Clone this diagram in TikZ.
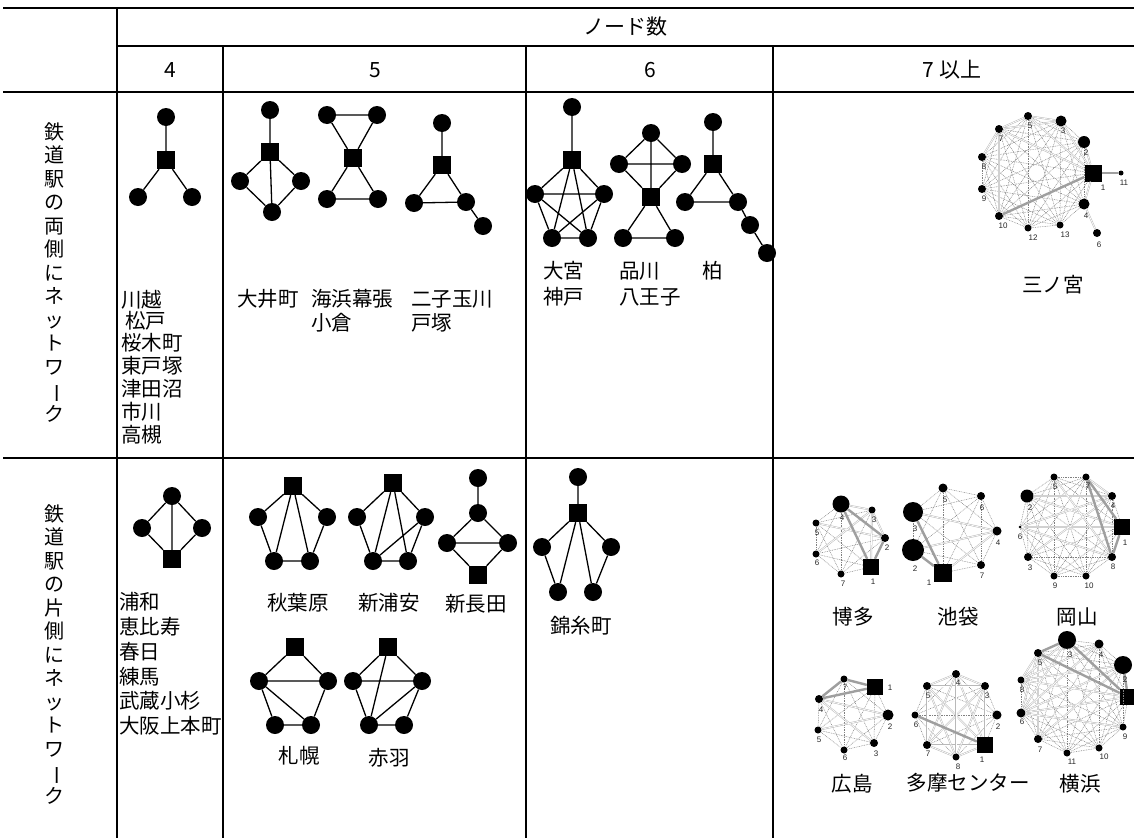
\documentclass[tikz,border=0pt]{standalone}
\usepackage{fontspec}
\newfontfamily\cjk{Noto Sans CJK JP}
\newfontfamily\num{Liberation Sans}
\begin{document}
\begin{tikzpicture}[x=1pt,y=-1pt,
  cn/.style={circle,fill=black,inner sep=0pt,minimum size=18pt},
  sq/.style={rectangle,fill=black,inner sep=0pt,minimum size=18pt},
  ed/.style={line width=1.3pt},
  lab/.style={font=\cjk\fontsize{20.5}{23}\selectfont,inner sep=0pt},
  hd/.style={font=\cjk\fontsize{21}{24}\selectfont,inner sep=0pt},
  vt/.style={font=\cjk\fontsize{20}{23.5}\selectfont,inner sep=0pt,align=center,anchor=north},
  nd/.style={circle,fill=black,inner sep=0pt,minimum size=#1},
  nd/.default=7pt,
  ns/.style={rectangle,fill=black,inner sep=0pt,minimum size=#1},
  ns/.default=16pt,
  nl/.style={font=\num\fontsize{8}{9}\selectfont,inner sep=0pt,text=black!85},
  dt/.style={black!50,dash pattern=on 0.8pt off 0.9pt,line width=0.5pt},
  lt/.style={draw=gray!55,line width=0.5pt,double=white,double distance=0.7pt},
  tk/.style={gray!75,line width=2.4pt},
  grid/.style={line width=1.2pt},
  gridb/.style={line width=2pt}
]
\fill[white] (0,0) rectangle (1134,838);
\useasboundingbox (0,0) rectangle (1134,838);

% ---------- table ----------
\draw[gridb] (3,8) -- (1134,8);
\draw[grid] (117,8) -- (117,838);
\draw[grid] (117,46) -- (1134,46);
\draw[gridb] (3,92) -- (1134,92);
\draw[grid] (223,46) -- (223,838);
\draw[grid] (526,46) -- (526,838);
\draw[grid] (773,46) -- (773,838);
\draw[gridb] (3,458) -- (1134,458);

\node[hd] (hnodes) at (625,27) {ノード数};
\node[hd] (h4) at (170,70) {4};
\node[hd] (h5) at (375,70) {5};
\node[hd] (h6) at (650,70) {6};
\node[hd] (h7) at (952,70) {7 以上};

\node[vt] (row1) at (54,122) {鉄\\道\\駅\\の\\両\\側\\に\\ネ\\ッ\\ト\\ワ\\\rotatebox[origin=c]{-90}{ー}\\ク};
\node[vt] (row2) at (54,504) {鉄\\道\\駅\\の\\片\\側\\に\\ネ\\ッ\\ト\\ワ\\\rotatebox[origin=c]{-90}{ー}\\ク};

% ---------- row 1, 4 nodes ----------
\node[cn] (a1) at (166,117) {};
\node[sq] (a0) at (166,160) {};
\node[cn] (a2) at (138,197) {};
\node[cn] (a3) at (192,197) {};
\draw[ed] (a1)--(a0) (a0)--(a2) (a0)--(a3);
\node[lab,anchor=west] (t1) at (121,300) {川越};
\node[lab,anchor=west] (t2) at (125,321) {松戸};
\node[lab,anchor=west] (t3) at (121,343) {桜木町};
\node[lab,anchor=west] (t4) at (121,366) {東戸塚};
\node[lab,anchor=west] (t5) at (121,389) {津田沼};
\node[lab,anchor=west] (t6) at (121,412) {市川};
\node[lab,anchor=west] (t7) at (121,435) {高槻};

% ---------- row 1, 5 nodes ----------
\node[cn] (b1) at (270,110) {};
\node[sq] (b0) at (270,152) {};
\node[cn] (b2) at (240,181) {};
\node[cn] (b3) at (301,181) {};
\node[cn] (b4) at (272,212) {};
\draw[ed] (b1)--(b0) (b0)--(b2) (b0)--(b3) (b0)--(b4) (b2)--(b4) (b3)--(b4);

\node[cn] (c1) at (327,115) {};
\node[cn] (c2) at (377,115) {};
\node[sq] (c0) at (353,158) {};
\node[cn] (c3) at (327,199) {};
\node[cn] (c4) at (378,199) {};
\draw[ed] (c1)--(c2) (c1)--(c0) (c2)--(c0) (c0)--(c3) (c0)--(c4) (c3)--(c4);

\node[cn] (d1) at (442,123) {};
\node[sq] (d0) at (442,165) {};
\node[cn] (d2) at (414,203) {};
\node[cn] (d3) at (466,202) {};
\node[cn] (d4) at (483,226) {};
\draw[ed] (d1)--(d0) (d0)--(d2) (d0)--(d3) (d2)--(d3) (d3)--(d4);

\node[lab,anchor=west] (u1) at (237,299) {大井町};
\node[lab,anchor=west] (u2) at (311,299) {海浜幕張};
\node[lab,anchor=west] (u3) at (311,323) {小倉};
\node[lab,anchor=west] (u4) at (411,299) {二子玉川};
\node[lab,anchor=west] (u5) at (411,323) {戸塚};

% ---------- row 1, 6 nodes ----------
\node[cn] (e1) at (572,107) {};
\node[sq] (e0) at (572,160) {};
\node[cn] (e2) at (535,194) {};
\node[cn] (e3) at (604,194) {};
\node[cn] (e4) at (552,238) {};
\node[cn] (e5) at (588,238) {};
\draw[ed] (e1)--(e0) (e0)--(e2) (e0)--(e3) (e0)--(e4) (e0)--(e5)
  (e2)--(e3) (e2)--(e4) (e2)--(e5) (e3)--(e4) (e3)--(e5) (e4)--(e5);

\node[cn] (f1) at (651,133) {};
\node[cn] (f2) at (619,164) {};
\node[cn] (f3) at (682,164) {};
\node[sq] (f0) at (651,197) {};
\node[cn] (f4) at (623,238) {};
\node[cn] (f5) at (675,238) {};
\draw[ed] (f1)--(f2) (f1)--(f3) (f1)--(f0) (f2)--(f3) (f2)--(f0) (f3)--(f0)
  (f0)--(f4) (f0)--(f5) (f4)--(f5);

\node[cn] (g1) at (713,122) {};
\node[sq] (g0) at (713,164) {};
\node[cn] (g2) at (685,202) {};
\node[cn] (g3) at (738,202) {};
\node[cn] (g4) at (750,225) {};
\node[cn] (g5) at (767,253) {};
\draw[ed] (g1)--(g0) (g0)--(g2) (g0)--(g3) (g2)--(g3) (g3)--(g4) (g4)--(g5);

\node[lab,anchor=west] (v1) at (543,271) {大宮};
\node[lab,anchor=west] (v2) at (543,297) {神戸};
\node[lab,anchor=west] (v3) at (619,271) {品川};
\node[lab,anchor=west] (v4) at (619,297) {八王子};
\node[lab,anchor=west] (v5) at (702,271) {柏};

% ---------- row 1, 7+ : 三ノ宮 ----------
\node[ns=17pt] (S1) at (1093,173) {};
\node[nd=5pt] (S11) at (1121,173) {};
\node[nd=12pt] (S2) at (1084,142) {};
\node[nd=11pt] (S3) at (1061,121) {};
\node[nd=8pt] (S5) at (1028,116) {};
\node[nd=8pt] (S7) at (999,129) {};
\node[nd=8pt] (S8) at (982,157) {};
\node[nd=8pt] (S9) at (982,189) {};
\node[nd=8pt] (S10) at (999,216) {};
\node[nd=7pt] (S12) at (1028,228) {};
\node[nd=7pt] (S13) at (1060,225) {};
\node[nd=11pt] (S4) at (1084,204) {};
\node[nd=8pt] (S6) at (1097,233) {};
\foreach \a in {1,2,3,4,5,7,8,9,10,12,13}{\foreach \b in {1,2,3,4,5,7,8,9,10,12,13}{\ifnum\a<\b \draw[dt] (S\a)--(S\b);\fi}}
\draw[lt] (S7)--(S1) (S7)--(S5) (S7)--(S3) (S5)--(S3) (S5)--(S1) (S3)--(S1) (S2)--(S1)
  (S7)--(S10) (S7)--(S8) (S4)--(S6) (S4)--(S1);
\draw[tk] (S1)--(S10);
\draw[tk] (S1)--(S11);
\foreach \n/\x/\y in {1/1103/188,11/1124/183,2/1086/153,3/1063/131,5/1030/126,7/1001/139,8/984/167,9/984/199,10/1003/226,12/1033/238,13/1065/235,4/1086/216,6/1099/245}
  \node[nl] (Sl\n) at (\x,\y) {\n};
\node[lab] (w1) at (1053,285) {三ノ宮};

% ---------- row 2, 4 nodes ----------
\node[cn] (h1) at (172,496) {};
\node[cn] (h2) at (142,528) {};
\node[cn] (h3) at (202,528) {};
\node[sq] (h0) at (172,559) {};
\draw[ed] (h1)--(h2) (h1)--(h3) (h1)--(h0) (h2)--(h0) (h3)--(h0);
\node[lab,anchor=west] (x1) at (119,602) {浦和};
\node[lab,anchor=west] (x2) at (119,627) {恵比寿};
\node[lab,anchor=west] (x3) at (119,652) {春日};
\node[lab,anchor=west] (x4) at (119,677) {練馬};
\node[lab,anchor=west] (x5) at (119,701) {武蔵小杉};
\node[lab,anchor=west] (x6) at (119,726) {大阪上本町};

% ---------- row 2, 5 nodes ----------
\node[sq] (i0) at (293,486) {};
\node[cn] (i1) at (258,517) {};
\node[cn] (i2) at (327,517) {};
\node[cn] (i3) at (274,561) {};
\node[cn] (i4) at (310,561) {};
\draw[ed] (i0)--(i1) (i0)--(i2) (i0)--(i3) (i0)--(i4) (i1)--(i3) (i2)--(i4) (i3)--(i4);

\node[sq] (j0) at (393,483) {};
\node[cn] (j1) at (357,517) {};
\node[cn] (j2) at (425,517) {};
\node[cn] (j3) at (373,561) {};
\node[cn] (j4) at (408,561) {};
\draw[ed] (j0)--(j1) (j0)--(j2) (j0)--(j3) (j0)--(j4) (j1)--(j3) (j2)--(j4) (j3)--(j4) (j3)--(j2);

\node[cn] (k1) at (478,478) {};
\node[cn] (k2) at (478,513) {};
\node[cn] (k3) at (447,543) {};
\node[cn] (k4) at (508,543) {};
\node[sq] (k0) at (478,575) {};
\draw[ed] (k1)--(k2) (k2)--(k3) (k2)--(k4) (k3)--(k4) (k3)--(k0) (k4)--(k0);

\node[sq] (l0) at (295,647) {};
\node[cn] (l1) at (259,681) {};
\node[cn] (l2) at (328,681) {};
\node[cn] (l3) at (275,725) {};
\node[cn] (l4) at (311,725) {};
\draw[ed] (l0)--(l1) (l0)--(l2) (l1)--(l2) (l1)--(l3) (l1)--(l4) (l2)--(l4) (l3)--(l4);

\node[sq] (m0) at (388,647) {};
\node[cn] (m1) at (353,681) {};
\node[cn] (m2) at (422,681) {};
\node[cn] (m3) at (369,725) {};
\node[cn] (m4) at (404,725) {};
\draw[ed] (m0)--(m1) (m0)--(m2) (m0)--(m3) (m1)--(m2) (m1)--(m3) (m3)--(m2) (m2)--(m4) (m3)--(m4);

\node[lab] (y1) at (298,603) {秋葉原};
\node[lab] (y2) at (389,603) {新浦安};
\node[lab] (y3) at (476,604) {新長田};
\node[lab] (y4) at (299,756) {札幌};
\node[lab] (y5) at (389,758) {赤羽};

% ---------- row 2, 6 nodes ----------
\node[cn] (n1) at (578,477) {};
\node[sq] (n0) at (578,513) {};
\node[cn] (n2) at (542,547) {};
\node[cn] (n3) at (611,547) {};
\node[cn] (n4) at (558,592) {};
\node[cn] (n5) at (593,592) {};
\draw[ed] (n1)--(n0) (n0)--(n2) (n0)--(n3) (n0)--(n4) (n0)--(n5) (n2)--(n4) (n3)--(n5);
\node[lab] (z1) at (581,626) {錦糸町};

% ---------- row 2, 7+ ----------
% 博多
\node[ns=16pt] (H1) at (871,567) {};
\node[nd=8pt] (H2) at (885,538) {};
\node[nd=7pt] (H3) at (872,510) {};
\node[nd=17pt] (H4) at (841,504) {};
\node[nd=7pt] (H5) at (816,523) {};
\node[nd=7pt] (H6) at (816,554) {};
\node[nd=7pt] (H7) at (841,574) {};
\foreach \a in {1,...,7}{\foreach \b in {1,...,7}{\ifnum\a<\b \draw[dt] (H\a)--(H\b);\fi}}
\draw[lt] (H3)--(H1) (H4)--(H3) (H3)--(H2) (H5)--(H2) (H6)--(H3);
\draw[tk] (H4)--(H1) (H4)--(H2) (H2)--(H1);
\foreach \n/\x/\y in {1/873/582,2/887/548,3/874/520,4/842/518,5/817/533,6/817/563,7/843/584}
  \node[nl] (Hl\n) at (\x,\y) {\n};
\node[lab] (q1) at (853,617) {博多};

% 池袋
\node[ns=18pt] (P1) at (943,573) {};
\node[nd=22pt] (P2) at (913,550) {};
\node[nd=20pt] (P3) at (913,512) {};
\node[nd=9pt] (P4) at (997,531) {};
\node[nd=9pt] (P5) at (943,488) {};
\node[nd=8pt] (P6) at (981,496) {};
\node[nd=8pt] (P7) at (981,565) {};
\foreach \a in {1,...,7}{\foreach \b in {1,...,7}{\ifnum\a<\b \draw[dt] (P\a)--(P\b);\fi}}
\draw[lt] (P1)--(P4) (P3)--(P4) (P2)--(P4);
\draw[tk] (P3)--(P1) (P2)--(P1);
\foreach \n/\x/\y in {1/929/583,2/915/569,3/915/529,4/998/543,5/945/500,6/982/508,7/982/576}
  \node[nl] (Pl\n) at (\x,\y) {\n};
\node[lab] (q2) at (958,617) {池袋};

% 岡山
\node[ns=16pt] (O1) at (1122,527) {};
\node[nd=13pt] (O2) at (1027,496) {};
\node[nd=8pt] (O3) at (1028,557) {};
\node[nd=8pt] (O4) at (1112,496) {};
\node[nd=7pt] (O5) at (1054,477) {};
\node[nd=3pt] (O6) at (1020,527) {};
\node[nd=7pt] (O7) at (1086,477) {};
\node[nd=8pt] (O8) at (1112,557) {};
\node[nd=7pt] (O9) at (1054,576) {};
\node[nd=7pt] (O10) at (1086,576) {};
\foreach \a in {1,...,10}{\foreach \b in {1,...,10}{\ifnum\a<\b \draw[dt] (O\a)--(O\b);\fi}}
\draw[lt] (O2)--(O4) (O6)--(O1) (O6)--(O4) (O2)--(O1) (O5)--(O8) (O7)--(O4) (O6)--(O8) (O3)--(O4);
\draw[tk] (O7)--(O1) (O7)--(O8) (O8)--(O1);
\foreach \n/\x/\y in {1/1125/543,2/1030/508,3/1030/568,4/1113/506,5/1055/487,6/1020/537,7/1088/486,8/1113/567,9/1055/586,10/1089/586}
  \node[nl] (Ol\n) at (\x,\y) {\n};
\node[lab] (q3) at (1077,617) {岡山};

% 広島
\node[ns=16pt] (R1) at (875,687) {};
\node[nd=11pt] (R2) at (888,715) {};
\node[nd=8pt] (R3) at (874,743) {};
\node[nd=8pt] (R4) at (819,699) {};
\node[nd=7pt] (R5) at (818,730) {};
\node[nd=7pt] (R6) at (844,750) {};
\node[nd=7pt] (R7) at (844,679) {};
\foreach \a in {1,...,7}{\foreach \b in {1,...,7}{\ifnum\a<\b \draw[dt] (R\a)--(R\b);\fi}}
\draw[lt] (R4)--(R3) (R5)--(R2) (R4)--(R2);
\draw[tk] (R4)--(R7) (R7)--(R1) (R4)--(R1);
\foreach \n/\x/\y in {1/890/688,2/890/727,3/876/754,4/821/710,5/819/740,6/845/758,7/845/688}
  \node[nl] (Rl\n) at (\x,\y) {\n};
\node[lab] (q4) at (852,784) {広島};

% 多摩センター
\node[ns=16pt] (T1) at (985,745) {};
\node[nd=9pt] (T2) at (997,715) {};
\node[nd=8pt] (T3) at (985,686) {};
\node[nd=8pt] (T4) at (956,674) {};
\node[nd=8pt] (T5) at (927,686) {};
\node[nd=7pt] (T6) at (915,715) {};
\node[nd=8pt] (T7) at (927,745) {};
\node[nd=7pt] (T8) at (956,757) {};
\foreach \a in {1,...,8}{\foreach \b in {1,...,8}{\ifnum\a<\b \draw[dt] (T\a)--(T\b);\fi}}
\foreach \a in {1,3,4,5,7,8}{\foreach \b in {1,3,4,5,7,8}{\ifnum\a<\b \draw[lt] (T\a)--(T\b);\fi}}
\draw[tk] (T6)--(T1);
\foreach \n/\x/\y in {1/982/760,2/998/727,3/987/696,4/958/683,5/928/696,6/916/725,7/928/754,8/958/767}
  \node[nl] (Tl\n) at (\x,\y) {\n};
\node[lab] (q5) at (968,783) {多摩センター};

% 横浜
\node[ns=16pt] (Y1) at (1128,697) {};
\node[nd=18pt] (Y2) at (1123,665) {};
\node[nd=18pt] (Y3) at (1067,640) {};
\node[nd=9pt] (Y4) at (1099,644) {};
\node[nd=8pt] (Y5) at (1038,653) {};
\node[nd=9pt] (Y6) at (1021,713) {};
\node[nd=8pt] (Y7) at (1038,739) {};
\node[nd=7pt] (Y8) at (1021,680) {};
\node[nd=7pt] (Y9) at (1123,727) {};
\node[nd=7pt] (Y10) at (1099,748) {};
\node[nd=7pt] (Y11) at (1067,753) {};
\foreach \a in {1,...,11}{\foreach \b in {1,...,11}{\ifnum\a<\b \draw[dt] (Y\a)--(Y\b);\fi}}
\draw[lt] (Y6)--(Y2) (Y6)--(Y1) (Y8)--(Y2) (Y8)--(Y1) (Y5)--(Y6) (Y5)--(Y8) (Y6)--(Y4) (Y8)--(Y4)
  (Y5)--(Y7) (Y3)--(Y6) (Y7)--(Y2) (Y6)--(Y9) (Y8)--(Y3);
\draw[tk] (Y5)--(Y3) (Y3)--(Y1) (Y5)--(Y1) (Y2)--(Y1);
\foreach \n/\x/\y in {2/1125/680,3/1070/655,4/1101/655,5/1040/663,8/1022/690,6/1022/722,7/1040/750,11/1072/762,10/1104/757,9/1125/737}
  \node[nl] (Yl\n) at (\x,\y) {\n};
\node[lab] (q6) at (1080,784) {横浜};
\end{tikzpicture}
\end{document}
